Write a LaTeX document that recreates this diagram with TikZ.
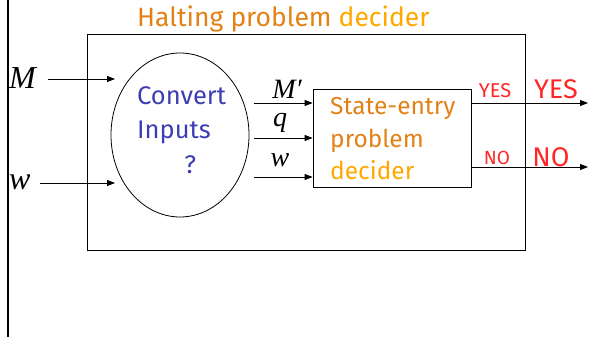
\documentclass[tikz,border=0pt]{standalone}
\usepackage{fontspec}
\setsansfont{Fira Sans}
\setmainfont{Liberation Serif}
\usetikzlibrary{arrows.meta,shapes.geometric,positioning}

\definecolor{haltorange}{RGB}{226,130,22}
\definecolor{decorange}{RGB}{255,168,0}
\definecolor{answerred}{RGB}{255,38,38}
\definecolor{convblue}{RGB}{62,62,178}

\tikzset{
  wire/.style={line width=0.8pt,-{Triangle[length=8pt,width=6pt]}},
  frame/.style={draw,line width=0.8pt,inner sep=0pt},
  comic/.style={font=\sffamily\fontsize{#1}{#1}\selectfont},
  symb/.style={font=\rmfamily\itshape\fontsize{#1}{#1}\selectfont,inner sep=0pt},
}

\begin{document}
\begin{tikzpicture}[x=1pt,y=-1pt]
  \useasboundingbox (0,0) rectangle (598,337);
  % page edge on the left
  \draw[line width=2.4pt] (8,0) -- (8,337);

  % outer machine
  \node[frame,minimum width=438pt,minimum height=216pt] (halt) at (306,142) {};
  \node[comic=26.5,text=haltorange,anchor=west,inner sep=0pt] (title) at (137,19)
    {Halting problem \textcolor{decorange}{decider}};

  % converter
  \node[frame,ellipse,minimum width=138pt,minimum height=164pt] (conv) at (180,135) {};
  \node[comic=25.5,text=convblue,align=left,anchor=west,inner sep=0pt] (convtext) at (137,130)
    {Convert\\[9pt]Inputs\\[9pt]\hspace*{1.85em}?};

  % state-entry decider
  \node[frame,minimum width=158pt,minimum height=98pt] (sed) at (392,138) {};
  \node[comic=24.5,text=haltorange,align=left,anchor=west,inner sep=0pt] (sedtext) at (330,139)
    {State-entry\\[8pt]problem\\[8pt]\textcolor{decorange}{decider}};

  % inputs
  \node[symb=32,anchor=west] (M) at (9,78) {M};
  \node[symb=32,anchor=west] (w) at (9,182) {w};
  \coordinate (Mend) at (115,79);
  \coordinate (wend) at (115,183);
  \draw[wire] (48,79) coordinate (Mstart) -- (Mend);
  \draw[wire] (40,183) coordinate (wstart) -- (wend);

  % converter to decider
  \coordinate (Mout) at (254,103);
  \coordinate (qout) at (254,138);
  \coordinate (wout) at (254,177);
  \draw[wire] (Mout) -- (Mout -| sed.west);
  \draw[wire] (qout) -- (qout -| sed.west);
  \draw[wire] (wout) -- (wout -| sed.west);
  \node[symb=28] (Mp) at (287,89) {M′};
  \node[symb=28] (q) at (280,123) {q};
  \node[symb=28] (w2) at (280,160) {w};

  % outputs
  \coordinate (yesend) at (588,103);
  \coordinate (noend) at (588,167);
  \draw[wire] (yesend -| sed.east) -- (yesend);
  \draw[wire] (noend -| sed.east) -- (noend);
  \node[comic=20,text=answerred,inner sep=0pt] (yesin) at (495,91) {YES};
  \node[comic=27,text=answerred,inner sep=0pt] (yesout) at (556,89) {YES};
  \node[comic=19,text=answerred,inner sep=0pt] (noin) at (497,158) {NO};
  \node[comic=27,text=answerred,inner sep=0pt] (noout) at (551,157) {NO};
\end{tikzpicture}
\end{document}
